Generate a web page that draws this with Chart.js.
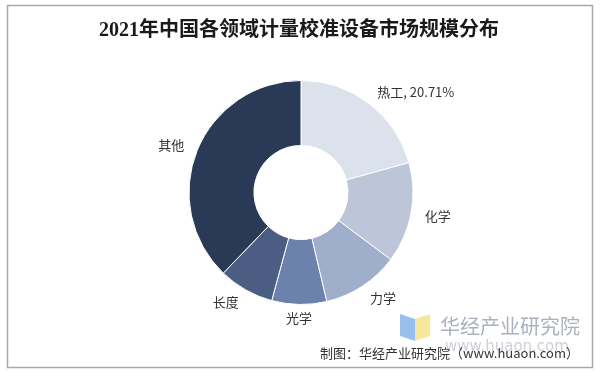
<!DOCTYPE html>
<html>
<head>
<meta charset="utf-8">
<script src="https://cdn.jsdelivr.net/npm/chart.js@4"></script>
<style>
  html, body { margin: 0; padding: 0; background: #fff; }
  #wrap { width: 600px; height: 371px; position: relative; }
</style>
</head>
<body>
<div id="wrap"><canvas id="pie" width="600" height="371"></canvas></div>
<script>
const categories = ['热工', '化学', '力学', '光学', '长度', '其他'];
const shares = [20.71, 14.5, 11.1, 7.9, 8.0, 37.79];
const labelTexts = ['热工, 20.71%', '化学', '力学', '光学', '长度', '其他'];
const sliceColors = ['#dce2ec', '#bcc6d8', '#9eaecb', '#6c81ab', '#4b5d82', '#2a3a56'];

const titleText = '2021年中国各领域计量校准设备市场规模分布';
const sourceText = '制图：华经产业研究院（www.huaon.com）';

const cjk = '"Noto Sans CJK SC", "Noto Sans", sans-serif';

// frame, title, watermark and footer
const decor = {
  id: 'decor',
  beforeDraw(chart) {
    const c = chart.ctx;
    c.save();
    c.fillStyle = '#fff';
    c.fillRect(0, 0, chart.width, chart.height);
    c.strokeStyle = '#a9a9a9';
    c.lineWidth = 1.5;
    c.strokeRect(7.5, 5.5, 585, 362);
    c.restore();
  },
  afterDraw(chart) {
    const c = chart.ctx;
    c.save();
    c.fillStyle = '#1a1a1a';
    c.font = 'bold 20px "Liberation Serif", "Noto Sans CJK SC", serif';
    c.textAlign = 'center';
    c.textBaseline = 'middle';
    c.fillText(titleText, 299, 31);

    // watermark logo
    c.fillStyle = 'rgba(120,170,230,0.75)';
    c.beginPath();
    c.moveTo(400, 314); c.lineTo(415, 319); c.lineTo(415, 341); c.lineTo(400, 336);
    c.closePath(); c.fill();
    c.fillStyle = 'rgba(245,225,130,0.8)';
    c.beginPath();
    c.moveTo(415, 319); c.lineTo(430, 314); c.lineTo(430, 336); c.lineTo(415, 341);
    c.closePath(); c.fill();

    c.fillStyle = '#aab0bd';
    c.font = '20px ' + cjk;
    c.textAlign = 'left';
    c.fillText('华经产业研究院', 440, 326);
    c.fillStyle = 'rgba(170,176,189,0.6)';
    c.font = '15px "DejaVu Sans", sans-serif';
    c.fillText('www.huaon.com', 445, 347);

    c.fillStyle = '#333';
    c.font = '13px ' + cjk;
    c.textAlign = 'right';
    c.fillText(sourceText, 579, 353);
    c.restore();
  }
};

// category labels outside each slice
const outerLabels = {
  id: 'outerLabels',
  afterDatasetsDraw(chart) {
    const c = chart.ctx;
    const arcs = chart.getDatasetMeta(0).data;
    c.save();
    c.font = '13px ' + cjk;
    c.fillStyle = '#333';
    c.textBaseline = 'middle';
    arcs.forEach((arc, i) => {
      const mid = (arc.startAngle + arc.endAngle) / 2;
      const r = arc.outerRadius + 14;
      const x = arc.x + Math.cos(mid) * r;
      const y = arc.y + Math.sin(mid) * r;
      const dx = x - arc.x;
      c.textAlign = dx > 15 ? 'left' : dx < -15 ? 'right' : 'center';
      c.fillText(labelTexts[i], x, y);
    });
    c.restore();
  }
};

new Chart(document.getElementById('pie'), {
  type: 'doughnut',
  data: {
    labels: categories,
    datasets: [{
      data: shares,
      backgroundColor: sliceColors,
      borderColor: '#ffffff',
      borderWidth: 1
    }]
  },
  options: {
    responsive: false,
    animation: false,
    cutout: '42%',
    layout: { padding: { top: 80, bottom: 66, left: 100, right: 98 } },
    plugins: {
      legend: { display: false },
      title: { display: false },
      tooltip: { enabled: false }
    }
  },
  plugins: [decor, outerLabels]
});
</script>
</body>
</html>
